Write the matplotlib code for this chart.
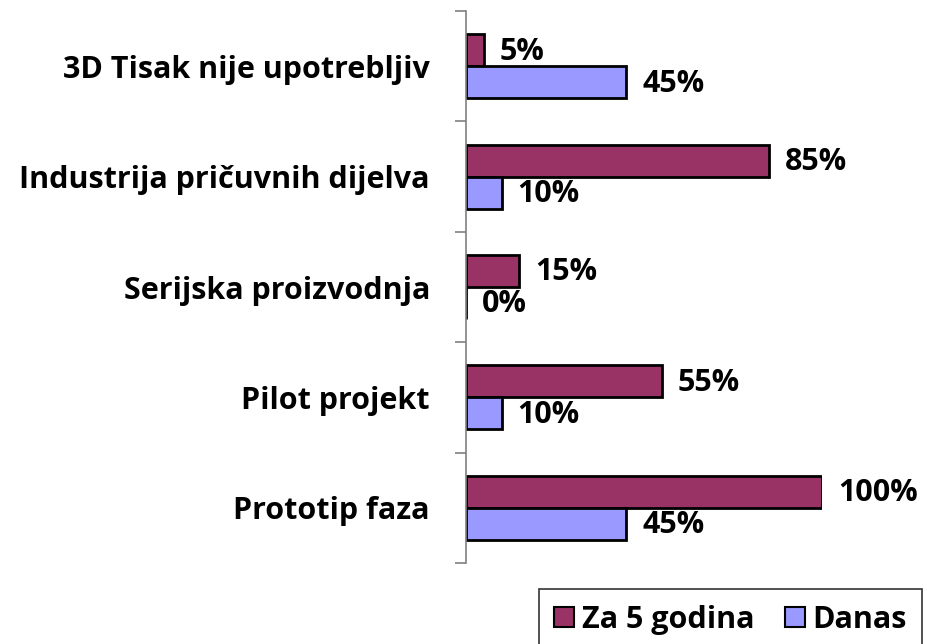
import numpy as np
import matplotlib
matplotlib.use("Agg")
import matplotlib.pyplot as plt
from matplotlib.patches import Patch

categories = ["Prototip faza", "Pilot projekt", "Serijska proizvodnja",
              "Industrija pričuvnih dijelva", "3D Tisak nije upotrebljiv"]
za5 = [100, 55, 15, 85, 5]      # Za 5 godina
danas = [45, 10, 0, 10, 45]     # Danas
series_names = ["Za 5 godina", "Danas"]

MAROON, LILAC = "#993366", "#9999FF"
FS = 22
plt.rcParams["font.family"] = ["Open Sans", "DejaVu Sans"]
plt.rcParams["font.weight"] = "bold"

fig = plt.figure(figsize=(9.27, 6.44), dpi=100)
ax = fig.add_axes([466 / 927, 1 - 563 / 644, (822 - 466) / 927, (563 - 11) / 644])

y = np.arange(len(categories))
h = 0.29
b1 = ax.barh(y + h / 2, za5, height=h, color=MAROON, edgecolor="black", lw=2, label=series_names[0])
b2 = ax.barh(y - h / 2, danas, height=h, color=LILAC, edgecolor="black", lw=2, label=series_names[1])

for bars, vals in [(b1, za5), (b2, danas)]:
    for r, v in zip(bars, vals):
        ax.annotate(f"{v}%", (v, r.get_y() + r.get_height() / 2), xytext=(11.5, -1),
                    textcoords="offset points", ha="left", va="center",
                    fontsize=FS, fontweight="bold", annotation_clip=False)

ax.set_xlim(0, 100)
ax.set_ylim(-0.5, len(categories) - 0.5)
ax.set_xticks([])
ax.set_yticks(np.arange(-0.5, len(categories), 1.0))
ax.set_yticklabels([])
ax.set_yticks(y, minor=True)
ax.set_yticklabels(categories, minor=True, fontsize=FS, fontweight="bold")
ax.tick_params(axis="y", which="major", length=8, color="#808080", width=1.2)
ax.tick_params(axis="y", which="minor", length=0, pad=26)
for s in ["top", "right", "bottom"]:
    ax.spines[s].set_visible(False)
ax.spines["left"].set_color("#808080")
ax.spines["left"].set_linewidth(1.2)

handles = [Patch(facecolor=MAROON, edgecolor="black", lw=1.5, label=series_names[0]),
           Patch(facecolor=LILAC, edgecolor="black", lw=1.5, label=series_names[1])]
leg = fig.legend(handles=handles, loc="lower right", bbox_to_anchor=(922 / 927, -0.009),
                 borderaxespad=0, ncol=2, frameon=True, fancybox=False, edgecolor="black",
                 handlelength=0.65, handleheight=0.65, handletextpad=0.25, columnspacing=1.0,
                 borderpad=0.5, prop={"weight": "bold", "size": FS})
leg.get_frame().set_linewidth(1.2)

fig.savefig("out.png", dpi=100)
